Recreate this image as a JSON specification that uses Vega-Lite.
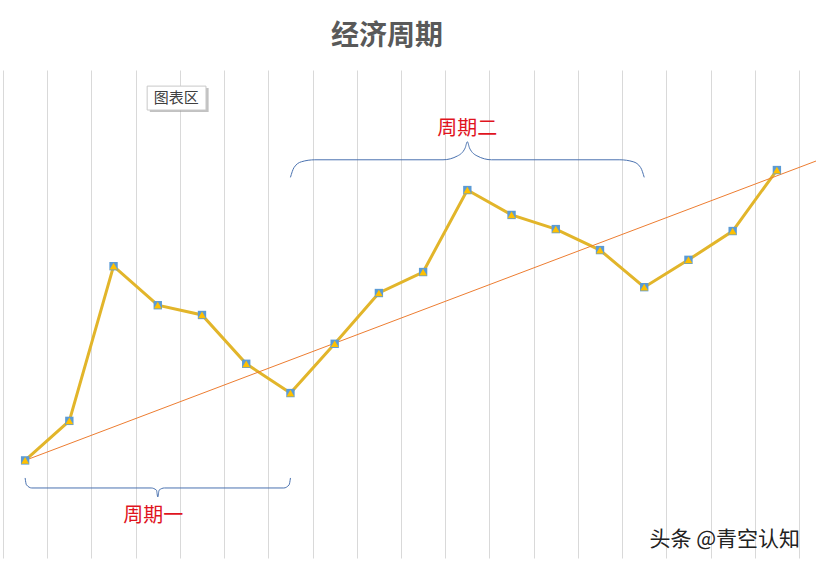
{
  "$schema": "https://vega.github.io/schema/vega-lite/v6.json",
  "width": 796,
  "height": 488,
  "autosize": "none",
  "padding": {"left": 3, "top": 70, "right": 17, "bottom": 9},
  "background": "white",
  "config": {"view": {"stroke": null}, "font": "Noto Sans CJK SC"},
  "title": {"text": "经济周期", "fontSize": 28, "fontWeight": "bold", "color": "#595959", "font": "Noto Sans CJK SC", "offset": 19, "dx": -14},
  "datasets": {
    "series": [
      {"period": 1, "value": 20}, {"period": 2, "value": 28.1}, {"period": 3, "value": 59.8},
      {"period": 4, "value": 51.8}, {"period": 5, "value": 49.8}, {"period": 6, "value": 39.8},
      {"period": 7, "value": 33.8}, {"period": 8, "value": 43.9}, {"period": 9, "value": 54.3},
      {"period": 10, "value": 58.6}, {"period": 11, "value": 75.4}, {"period": 12, "value": 70.3},
      {"period": 13, "value": 67.4}, {"period": 14, "value": 63.1}, {"period": 15, "value": 55.5},
      {"period": 16, "value": 61.1}, {"period": 17, "value": 67.0}, {"period": 18, "value": 79.5}
    ],
    "trend": [{"period": 1, "value": 20}, {"period": 18.9, "value": 81.4}],
    "braces": [
      {"brace": "一", "i": 0, "period": 1.0, "value": 16.4},
      {"brace": "一", "i": 1, "period": 1.03, "value": 15.0},
      {"brace": "一", "i": 2, "period": 1.15, "value": 14.35},
      {"brace": "一", "i": 3, "period": 3.85, "value": 14.35},
      {"brace": "一", "i": 4, "period": 3.97, "value": 13.9},
      {"brace": "一", "i": 5, "period": 4.0, "value": 12.5},
      {"brace": "一", "i": 6, "period": 4.03, "value": 13.9},
      {"brace": "一", "i": 7, "period": 4.15, "value": 14.35},
      {"brace": "一", "i": 8, "period": 6.85, "value": 14.35},
      {"brace": "一", "i": 9, "period": 6.97, "value": 15.0},
      {"brace": "一", "i": 10, "period": 7.0, "value": 16.4},
      {"brace": "二", "i": 0, "period": 7.0, "value": 78.0},
      {"brace": "二", "i": 1, "period": 7.08, "value": 80.0},
      {"brace": "二", "i": 2, "period": 7.25, "value": 81.2},
      {"brace": "二", "i": 3, "period": 7.55, "value": 81.6},
      {"brace": "二", "i": 4, "period": 10.45, "value": 81.6},
      {"brace": "二", "i": 5, "period": 10.78, "value": 82.4},
      {"brace": "二", "i": 6, "period": 10.95, "value": 84.0},
      {"brace": "二", "i": 7, "period": 11.0, "value": 85.3},
      {"brace": "二", "i": 8, "period": 11.05, "value": 84.0},
      {"brace": "二", "i": 9, "period": 11.22, "value": 82.4},
      {"brace": "二", "i": 10, "period": 11.55, "value": 81.6},
      {"brace": "二", "i": 11, "period": 14.45, "value": 81.6},
      {"brace": "二", "i": 12, "period": 14.75, "value": 81.2},
      {"brace": "二", "i": 13, "period": 14.92, "value": 80.0},
      {"brace": "二", "i": 14, "period": 15.0, "value": 78.0}
    ],
    "labels": [
      {"label": "周期一", "period": 3.9, "value": 8.7},
      {"label": "周期二", "period": 11.0, "value": 88.0}
    ],
    "chip": [{"x1": 3.76, "x2": 5.09, "y1": 96.7, "y2": 91.8, "xs1": 3.82, "xs2": 5.15, "ys1": 96.3, "ys2": 91.4, "label": "图表区", "xc": 4.42, "yc": 94.25}],
    "mark": [{"label": "头条 @青空认知", "period": 15.12, "value": 3.7}]
  },
  "layer": [
    {
      "data": {"name": "series"},
      "mark": {"type": "line", "color": "#E2B52A", "strokeWidth": 3},
      "encoding": {
        "x": {"field": "period", "type": "quantitative", "scale": {"domain": [0.5, 18.5], "nice": false, "zero": false},
          "axis": {"values": [0.5,1.5,2.5,3.5,4.5,5.5,6.5,7.5,8.5,9.5,10.5,11.5,12.5,13.5,14.5,15.5,16.5,17.5,18.5],
            "grid": true, "gridColor": "#D9D9D9", "gridWidth": 1, "labels": false, "ticks": false, "domain": false, "title": null}},
        "y": {"field": "value", "type": "quantitative", "scale": {"domain": [0, 100], "nice": false}, "axis": null}
      }
    },
    {
      "data": {"name": "trend"},
      "mark": {"type": "line", "color": "#ED7D31", "strokeWidth": 1, "clip": false},
      "encoding": {
        "x": {"field": "period", "type": "quantitative"},
        "y": {"field": "value", "type": "quantitative"}
      }
    },
    {
      "data": {"name": "series"},
      "mark": {"type": "point", "shape": "square", "filled": true, "color": "#5B9BD5", "size": 70, "opacity": 1},
      "encoding": {
        "x": {"field": "period", "type": "quantitative"},
        "y": {"field": "value", "type": "quantitative"}
      }
    },
    {
      "data": {"name": "series"},
      "mark": {"type": "point", "shape": "triangle-up", "filled": true, "color": "#FFC000", "size": 60, "opacity": 1},
      "encoding": {
        "x": {"field": "period", "type": "quantitative"},
        "y": {"field": "value", "type": "quantitative"}
      }
    },
    {
      "data": {"name": "braces"},
      "mark": {"type": "line", "color": "#4A72B0", "strokeWidth": 1, "interpolate": "monotone"},
      "encoding": {
        "x": {"field": "period", "type": "quantitative"},
        "y": {"field": "value", "type": "quantitative"},
        "detail": {"field": "brace"},
        "order": {"field": "i", "type": "quantitative"}
      }
    },
    {
      "data": {"name": "labels"},
      "mark": {"type": "text", "color": "#E0141E", "fontSize": 20, "font": "Noto Sans CJK SC"},
      "encoding": {
        "x": {"field": "period", "type": "quantitative"},
        "y": {"field": "value", "type": "quantitative"},
        "text": {"field": "label"}
      }
    },
    {
      "data": {"name": "chip"},
      "mark": {"type": "rect", "color": "#9A9A9A", "opacity": 0.6},
      "encoding": {
        "x": {"field": "xs1", "type": "quantitative"}, "x2": {"field": "xs2"},
        "y": {"field": "ys1", "type": "quantitative"}, "y2": {"field": "ys2"}
      }
    },
    {
      "data": {"name": "chip"},
      "mark": {"type": "rect", "fill": "white", "stroke": "#C8C8C8", "strokeWidth": 1},
      "encoding": {
        "x": {"field": "x1", "type": "quantitative"}, "x2": {"field": "x2"},
        "y": {"field": "y1", "type": "quantitative"}, "y2": {"field": "y2"}
      }
    },
    {
      "data": {"name": "chip"},
      "mark": {"type": "text", "color": "#404040", "fontSize": 15, "font": "Noto Sans CJK SC"},
      "encoding": {
        "x": {"field": "xc", "type": "quantitative"},
        "y": {"field": "yc", "type": "quantitative"},
        "text": {"field": "label"}
      }
    },
    {
      "data": {"name": "mark"},
      "mark": {"type": "text", "color": "#222222", "fontSize": 21, "align": "left", "font": "Noto Sans CJK SC"},
      "encoding": {
        "x": {"field": "period", "type": "quantitative"},
        "y": {"field": "value", "type": "quantitative"},
        "text": {"field": "label"}
      }
    }
  ]
}
